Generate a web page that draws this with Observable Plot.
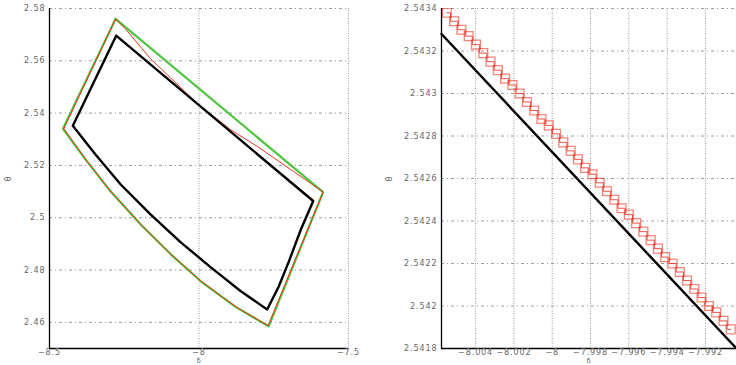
<!DOCTYPE html>
<html>
<head>
<meta charset="utf-8">
<script src="https://cdn.jsdelivr.net/npm/d3@7"></script>
<script src="https://cdn.jsdelivr.net/npm/@observablehq/plot@0.6"></script>
<style>
  body { margin: 0; background: #fff; }
  #wrap { display: flex; width: 736px; height: 365px; }
  #wrap svg { display: block; }
  #wrap svg text { letter-spacing: 0.9px; }
</style>
</head>
<body>
<div id="wrap"></div>
<script>
// ---------- Left panel data ----------
const leftXTicks = [-8.5, -8, -7.5];
const leftYTicks = [2.46, 2.48, 2.5, 2.52, 2.54, 2.56, 2.58];

const greenX = [-8.279, -8.455, -8.3796, -8.2960, -8.1957, -8.0953, -7.9950, -7.8779, -7.767, -7.585, -8.279];
const greenY = [2.5760, 2.5340, 2.5223, 2.5101, 2.4975, 2.4861, 2.4758, 2.4659, 2.4585, 2.5098, 2.5760];

const redX = [-8.2793, -8.2458, -8.2124, -8.1622, -8.0953, -8.0050, -7.8946, -7.8043, -7.6940, -7.5846, -7.769, -7.8789, -7.9960, -8.0963, -8.1967, -8.2970, -8.3806, -8.452, -8.2793];
const redY = [2.5760, 2.5722, 2.5676, 2.5608, 2.5535, 2.5436, 2.5337, 2.5272, 2.5185, 2.5098, 2.4587, 2.4661, 2.4760, 2.4863, 2.4977, 2.5103, 2.5225, 2.5341, 2.5760];

const blackX = [-8.277, -7.618, -7.6589, -7.6990, -7.7341, -7.772, -7.8612, -7.9615, -8.0619, -8.1622, -8.2625, -8.3462, -8.422, -8.277];
const blackY = [2.5696, 2.5064, 2.4956, 2.4834, 2.4735, 2.4649, 2.4720, 2.4811, 2.4907, 2.5013, 2.5128, 2.5242, 2.5352, 2.5696];

// ---------- Right panel data ----------
const rightXTicks = [-8.004, -8.002, -8, -7.998, -7.996, -7.994, -7.992];
const rightYTicks = [2.5418, 2.542, 2.5422, 2.5424, 2.5426, 2.5428, 2.543, 2.5432, 2.5434];

const zoomBlackX = [-8.00578, -7.99038];
const zoomBlackY = [2.54328, 2.54180];

const squareX = [-8.00550, -8.00512, -8.00474, -8.00436, -8.00398, -8.00360, -8.00322, -8.00284, -8.00246, -8.00208,
                 -8.00170, -8.00132, -8.00094, -8.00056, -8.00018, -7.99980, -7.99942, -7.99904, -7.99866, -7.99828,
                 -7.99790, -7.99752, -7.99714, -7.99676, -7.99638, -7.99600, -7.99562, -7.99524, -7.99486, -7.99448,
                 -7.99410, -7.99372, -7.99334, -7.99296, -7.99258, -7.99220, -7.99182, -7.99144, -7.99106, -7.99068];
const squareY = [2.54338, 2.54334, 2.54330, 2.54327, 2.54323, 2.54319, 2.54315, 2.54311, 2.54307, 2.54304,
                 2.54300, 2.54296, 2.54292, 2.54288, 2.54285, 2.54281, 2.54277, 2.54273, 2.54269, 2.54265,
                 2.54262, 2.54258, 2.54254, 2.54250, 2.54246, 2.54243, 2.54239, 2.54235, 2.54231, 2.54227,
                 2.54223, 2.54220, 2.54216, 2.54212, 2.54208, 2.54204, 2.54200, 2.54197, 2.54193, 2.54189];

const xLabel = "δ";
const yLabel = "θ";

// ---------- helpers ----------
const zip = (xs, ys) => xs.map((x, i) => ({x, y: ys[i]}));
const fmt = d3.format("");
const gridH = {stroke: "#808080", strokeWidth: 0.8, strokeDasharray: "3,3,1,3"};
const gridV = {stroke: "#808080", strokeWidth: 0.8, strokeDasharray: "1,1.5"};
const style = {fontSize: "8px", fontFamily: "DejaVu Sans, sans-serif", color: "#666", background: "white"};

const left = Plot.plot({
  width: 368, height: 365,
  marginLeft: 49, marginRight: 20, marginTop: 8, marginBottom: 17,
  x: {domain: [-8.5, -7.5]},
  y: {domain: [2.45, 2.58]},
  style,
  marks: [
    Plot.ruleY(leftYTicks, gridH),
    Plot.ruleX(leftXTicks.slice(1), gridV),
    Plot.line(zip(greenX, greenY), {x: "x", y: "y", stroke: "#4cc63c", strokeWidth: 2.2, curve: "linear"}),
    Plot.line(zip(redX, redY), {x: "x", y: "y", stroke: "#ee3322", strokeWidth: 1, curve: "linear"}),
    Plot.line(zip(blackX, blackY), {x: "x", y: "y", stroke: "#000", strokeWidth: 2.4, curve: "linear"}),
    Plot.ruleX([-8.5], {stroke: "#000", strokeWidth: 1.3}),
    Plot.ruleY([2.45], {stroke: "#000", strokeWidth: 1.3}),
    Plot.axisX(leftXTicks, {tickSize: 0, tickPadding: 1, tickFormat: fmt, label: null, color: "#666"}),
    Plot.text([xLabel], {frameAnchor: "bottom", dy: 10, lineAnchor: "top", fontSize: 7, fill: "#666"}),
    Plot.axisY(leftYTicks, {tickSize: 0, tickPadding: 4, tickFormat: fmt, label: yLabel, labelAnchor: "center", labelArrow: "none", labelOffset: 44, color: "#666"})
  ]
});

const right = Plot.plot({
  width: 368, height: 365,
  marginLeft: 73, marginRight: 0, marginTop: 8, marginBottom: 17,
  x: {domain: [-8.00578, -7.99038]},
  y: {domain: [2.5418, 2.5434]},
  style,
  marks: [
    Plot.ruleY(rightYTicks.slice(1), gridH),
    Plot.ruleX(rightXTicks, gridV),
    Plot.line(zip(squareX, squareY), {x: "x", y: "y", stroke: "#e8281a", strokeWidth: 1, strokeOpacity: 0.8, curve: "step"}),
    Plot.dot(zip(squareX, squareY), {x: "x", y: "y", symbol: "square", r: 5, stroke: "#ee3322", strokeOpacity: 0.6, strokeWidth: 1.3, fill: "none", clip: true}),
    Plot.line(zip(zoomBlackX, zoomBlackY), {x: "x", y: "y", stroke: "#000", strokeWidth: 2.4}),
    Plot.ruleX([-8.00578], {stroke: "#000", strokeWidth: 1.3}),
    Plot.ruleY([2.5418], {stroke: "#000", strokeWidth: 1.3}),
    Plot.axisX(rightXTicks, {tickSize: 0, tickPadding: 1, tickFormat: fmt, label: null, color: "#666"}),
    Plot.text([xLabel], {frameAnchor: "bottom", dy: 10, lineAnchor: "top", fontSize: 7, fill: "#666"}),
    Plot.axisY(rightYTicks, {tickSize: 0, tickPadding: 4, tickFormat: fmt, label: yLabel, labelAnchor: "center", labelArrow: "none", labelOffset: 55, color: "#666"})
  ]
});

document.getElementById("wrap").append(left, right);
</script>
</body>
</html>
